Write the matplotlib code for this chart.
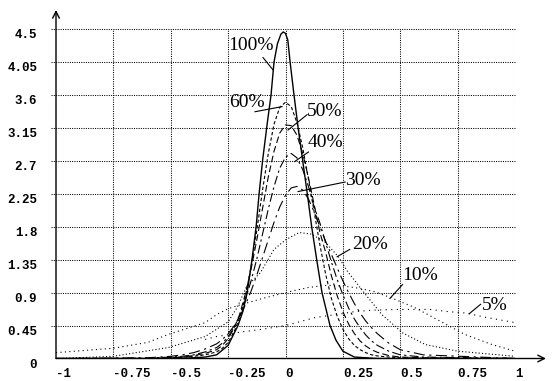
import matplotlib
matplotlib.use("Agg")
import matplotlib.pyplot as plt

# tick values / labels
x_ticks = [-1, -0.75, -0.5, -0.25, 0, 0.25, 0.5, 0.75, 1]
x_labels = ['-1', '-0.75', '-0.5', '-0.25', '0', '0.25', '0.5', '0.75', '1']
y_ticks = [0, 0.45, 0.9, 1.35, 1.8, 2.25, 2.7, 3.15, 3.6, 4.05, 4.5]
y_labels = ['0', '0.45', '0.9', '1.35', '1.8', '2.25', '2.7', '3.15', '3.6', '4.05', '4.5']

# 100% (solid)
x100 = [-1, -0.5, -0.4, -0.35, -0.3, -0.25, -0.207, -0.185, -0.167, -0.146, -0.128,
        -0.115, -0.1, -0.08, -0.063, -0.05, -0.035, -0.02, -0.01, 0.0, 0.01, 0.02,
        0.037, 0.055, 0.075, 0.095, 0.114, 0.136, 0.159, 0.194, 0.22, 0.25, 0.3, 0.4, 1]
y100 = [0, 0.0, 0.01, 0.02, 0.05, 0.18, 0.45, 0.65, 0.9, 1.35, 1.8,
        2.25, 2.7, 3.2, 3.6, 4.05, 4.3, 4.43, 4.46, 4.44, 4.35, 4.05,
        3.6, 3.15, 2.7, 2.25, 1.8, 1.35, 0.9, 0.45, 0.25, 0.1, 0.02, 0.0, 0.0]

# dashed curves share one x grid
xd = [-1, -0.6, -0.5, -0.45, -0.4, -0.35, -0.3, -0.275, -0.25, -0.225, -0.2, -0.175,
      -0.15, -0.125, -0.1, -0.075, -0.05, -0.025, 0, 0.025, 0.05, 0.075, 0.1, 0.125,
      0.15, 0.175, 0.2, 0.225, 0.25, 0.275, 0.3, 0.325, 0.35, 0.375, 0.4, 0.45, 0.5, 0.6, 1]
y60 = [0, 0, 0.01, 0.02, 0.03, 0.05, 0.09, 0.14, 0.22, 0.36, 0.55, 0.85,
       1.25, 1.75, 2.3, 2.8, 3.2, 3.43, 3.5, 3.44, 3.22, 2.88, 2.45, 2.0,
       1.55, 1.15, 0.82, 0.58, 0.4, 0.27, 0.18, 0.12, 0.08, 0.05, 0.035, 0.02, 0.01, 0.005, 0]
y50 = [0, 0, 0.01, 0.02, 0.04, 0.07, 0.12, 0.18, 0.27, 0.41, 0.6, 0.88,
       1.22, 1.62, 2.05, 2.48, 2.83, 3.08, 3.19, 3.18, 3.05, 2.8, 2.47, 2.1,
       1.72, 1.45, 1.13, 0.86, 0.64, 0.47, 0.34, 0.24, 0.17, 0.12, 0.085, 0.04, 0.02, 0.01, 0]
y40 = [0, 0.005, 0.02, 0.03, 0.05, 0.09, 0.15, 0.21, 0.3, 0.42, 0.58, 0.8,
       1.06, 1.36, 1.7, 2.04, 2.35, 2.6, 2.75, 2.8, 2.74, 2.58, 2.35, 2.07,
       1.85, 1.58, 1.32, 1.08, 0.87, 0.69, 0.54, 0.42, 0.32, 0.24, 0.18, 0.1, 0.05, 0.02, 0]
y30 = [0, 0.01, 0.03, 0.05, 0.08, 0.13, 0.2, 0.26, 0.34, 0.44, 0.57, 0.73,
       0.92, 1.14, 1.38, 1.62, 1.86, 2.07, 2.23, 2.33, 2.35, 2.3, 2.18, 2.0,
       1.8, 1.6, 1.42, 1.24, 1.06, 0.9, 0.75, 0.62, 0.51, 0.42, 0.34, 0.21, 0.12, 0.05, 0]

# dotted curves
x20 = [-1, -0.75, -0.51, -0.35, -0.25, -0.21, -0.17, -0.11, -0.05, 0.0, 0.06, 0.11,
       0.17, 0.23, 0.27, 0.35, 0.42, 0.51, 0.61, 0.75, 1.0]
y20 = [0.0, 0.03, 0.15, 0.3, 0.5, 0.7, 0.98, 1.17, 1.49, 1.62, 1.72, 1.7,
       1.6, 1.39, 1.19, 0.87, 0.6, 0.35, 0.19, 0.1, 0.03]
x10 = [-1, -0.75, -0.6, -0.51, -0.43, -0.35, -0.3, -0.25, -0.2, -0.1, 0.0, 0.1,
       0.18, 0.25, 0.32, 0.39, 0.46, 0.56, 0.68, 0.78, 0.9, 1.0]
y10 = [0.08, 0.14, 0.22, 0.33, 0.41, 0.49, 0.6, 0.68, 0.73, 0.82, 0.9, 0.97,
       1.0, 0.99, 0.96, 0.91, 0.83, 0.7, 0.5, 0.33, 0.19, 0.1]
x5 = [-0.35, -0.3, -0.24, -0.2, -0.1, 0.0, 0.13, 0.24, 0.3, 0.38, 0.49, 0.63,
      0.71, 0.79, 0.86, 1.0]
y5 = [0.26, 0.3, 0.33, 0.36, 0.4, 0.45, 0.56, 0.61, 0.64, 0.66, 0.67, 0.67,
      0.64, 0.62, 0.57, 0.49]

# labels: text position, leader start, leader end
labels = ['100%', '60%', '50%', '40%', '30%', '20%', '10%', '5%']
lab_xy = [(-0.15, 4.27), (-0.167, 3.49), (0.172, 3.38), (0.176, 2.95),
          (0.335, 2.43), (0.37, 1.56), (0.587, 1.13), (0.913, 0.72)]
lead_from = [(-0.098, 4.11), (-0.133, 3.37), (0.094, 3.33), (0.1, 2.82),
             (0.26, 2.41), (0.28, 1.49), (0.51, 1.01), (0.85, 0.74)]
lead_to = [(-0.054, 3.94), (-0.015, 3.44), (0.011, 3.12), (0.04, 2.69),
           (0.055, 2.28), (0.225, 1.39), (0.455, 0.82), (0.80, 0.61)]

fig = plt.figure(figsize=(5.54, 3.81), dpi=100)
ax = fig.add_axes([56 / 554, 1 - 358.5 / 381, 459 / 554, 329.5 / 381])
ax.set_xlim(-1, 1)
ax.set_ylim(0, 4.5)
for s in ax.spines.values():
    s.set_visible(False)

# dotted grid
grid_kw = dict(color='k', lw=0.75, linestyle=(0, (1, 1.2)), zorder=1)
ax.hlines(y_ticks[1:], -1.022, 1, clip_on=False, **grid_kw)
ax.vlines(x_ticks[1:], 0, 4.5, **grid_kw)

ax.plot(x100, y100, color='k', lw=1.0, zorder=3)
ax.plot(xd, y60, color='k', lw=0.8, ls=(0, (3, 2)))
ax.plot(xd, y50, color='k', lw=0.8, ls=(0, (6, 3)))
ax.plot(xd, y40, color='k', lw=0.8, ls=(0, (8, 3, 2, 3)))
ax.plot(xd, y30, color='k', lw=0.8, ls=(0, (10, 4, 2, 4)))
ax.plot(x20, y20, color='k', lw=0.8, ls=(0, (1, 2)))
ax.plot(x10, y10, color='k', lw=0.8, ls=(0, (1, 3)))
ax.plot(x5, y5, color='k', lw=0.8, ls=(0, (1, 4)))

for t, p, a, b in zip(labels, lab_xy, lead_from, lead_to):
    ax.text(p[0], p[1], t, ha='center', va='center', fontsize=14,
            family='Liberation Serif')
    ax.plot([a[0], b[0]], [a[1], b[1]], color='k', lw=0.8)

# axes with arrows
arr = dict(arrowstyle='->', lw=1.0, color='k', mutation_scale=12, shrinkA=0, shrinkB=0)
ax.annotate('', xy=(1.135, 0), xytext=(-1, 0), arrowprops=arr, annotation_clip=False)
ax.annotate('', xy=(-1, 4.76), xytext=(-1, 0), arrowprops=arr, annotation_clip=False)

ax.set_xticks(x_ticks, labels=x_labels)
ax.set_yticks(y_ticks, labels=y_labels)
ax.tick_params(length=0)
ax.tick_params(axis='y', pad=13.5)
ax.tick_params(axis='x', pad=7)
for lab in ax.get_xticklabels() + ax.get_yticklabels():
    lab.set_fontfamily('Liberation Mono')
    lab.set_fontweight('bold')
    lab.set_fontsize(9)
for lab in ax.get_xticklabels():
    lab.set_ha('left')
for lab in ax.get_yticklabels():
    lab.set_va('top')

fig.savefig('out.png', dpi=100)
